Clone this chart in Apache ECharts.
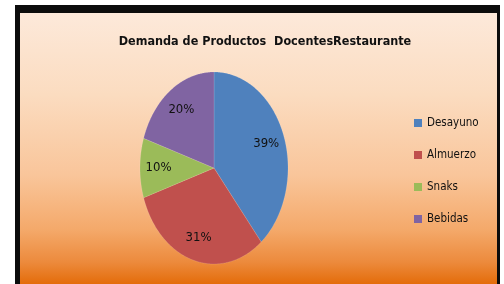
<!DOCTYPE html>
<html>
<head>
<meta charset="utf-8">
<script src="https://cdn.jsdelivr.net/npm/echarts@6/dist/echarts.min.js"></script>
<style>
  html, body { margin: 0; padding: 0; background: #fff; }
  #main { width: 504px; height: 284px; }
</style>
</head>
<body>
<div id="main"></div>
<script>
// datos del grafico
const title = "Demanda de Productos  DocentesRestaurante";
const categories = ["Desayuno", "Almuerzo", "Snaks", "Bebidas"];
const values = [39, 31, 10, 20];
const colors = ["#4F81BD", "#C0504D", "#9BBB59", "#8064A2"];

const FONT = '"Liberation Sans Narrow", "DejaVu Sans Condensed", sans-serif';

// pastel eliptico (como en Excel)
const cx = 214, cy = 168, rx = 74, ry = 96;
const total = values.reduce((a, b) => a + b, 0);
const starts = values.map((v, i) => values.slice(0, i).reduce((a, b) => a + b, 0));

function renderSlice(params, api) {
  const v = api.value(0);
  const s = api.value(1);
  const a0 = (s / total) * Math.PI * 2;
  const a1 = ((s + v) / total) * Math.PI * 2;
  const pts = [[cx, cy]];
  const steps = Math.max(4, Math.ceil((a1 - a0) / 0.01));
  for (let k = 0; k <= steps; k++) {
    const a = a0 + ((a1 - a0) * k) / steps;
    pts.push([cx + rx * Math.sin(a), cy - ry * Math.cos(a)]);
  }
  const am = (a0 + a1) / 2;
  return {
    type: "group",
    children: [
      {
        type: "polygon",
        shape: { points: pts },
        style: { fill: api.visual("color"), stroke: "rgba(255,255,255,0.25)", lineWidth: 0.5 }
      },
      {
        type: "text",
        x: cx + rx * 0.75 * Math.sin(am),
        y: cy - ry * 0.75 * Math.cos(am),
        style: {
          text: Math.round((v / total) * 100) + "%",
          fill: "#111",
          fontSize: 13,
          fontFamily: FONT,
          align: "center",
          verticalAlign: "middle"
        }
      }
    ]
  };
}

const myChart = echarts.init(document.getElementById("main"));
myChart.setOption({
  backgroundColor: "#fff",
  animation: false,
  graphic: [
    { type: "rect", z: -10, shape: { x: 15, y: 5, width: 485, height: 290 }, style: { fill: "#0c0c0c" } },
    {
      type: "rect", z: -9,
      shape: { x: 20, y: 13, width: 477, height: 271 },
      style: {
        fill: new echarts.graphic.LinearGradient(0, 0, 0, 1, [
          { offset: 0, color: "#FDE9DA" },
          { offset: 0.3, color: "#FBDCC0" },
          { offset: 0.6, color: "#F9C59A" },
          { offset: 0.8, color: "#F4A96A" },
          { offset: 0.92, color: "#EC8A3C" },
          { offset: 1, color: "#E46C0A" }
        ])
      }
    }
  ],
  title: {
    text: title,
    left: 260,
    top: 30,
    textAlign: "center",
    textStyle: { fontFamily: FONT, fontSize: 12.5, fontWeight: "bold", color: "#111" }
  },
  legend: {
    orient: "vertical",
    left: 414,
    top: 117,
    padding: 0,
    icon: "rect",
    itemWidth: 8,
    itemHeight: 8,
    itemGap: 20,
    data: categories,
    textStyle: { fontFamily: FONT, fontSize: 11.5, color: "#111" }
  },
  series: categories.map((name, i) => ({
    type: "custom",
    name: name,
    coordinateSystem: "none",
    itemStyle: { color: colors[i] },
    data: [[values[i], starts[i]]],
    renderItem: renderSlice
  }))
});
</script>
</body>
</html>
